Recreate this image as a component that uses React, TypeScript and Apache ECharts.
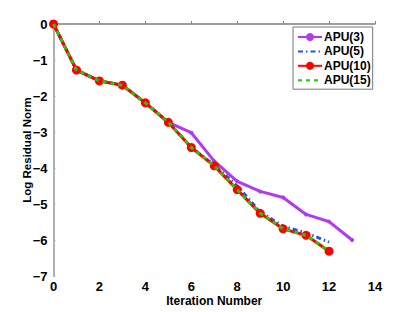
import React, { useEffect, useRef } from "react";
import * as echarts from "echarts";

const iterations = [0, 1, 2, 3, 4, 5, 6, 7, 8, 9, 10, 11, 12, 13];
const apu3 = [0, -1.28, -1.58, -1.7, -2.19, -2.73, -3.02, -3.81, -4.37, -4.65, -4.82, -5.29, -5.49, -6.0];
const apu5 = [0, -1.28, -1.58, -1.7, -2.19, -2.73, -3.43, -3.92, -4.5, -5.22, -5.62, -5.8, -6.06];
const apu10 = [0, -1.28, -1.58, -1.7, -2.19, -2.73, -3.43, -3.94, -4.6, -5.26, -5.69, -5.87, -6.31];
const apu15 = [0, -1.28, -1.58, -1.7, -2.19, -2.73, -3.43, -3.94, -4.6, -5.26, -5.69, -5.87, -6.31];
const seriesNames = ["APU(3)", "APU(5)", "APU(10)", "APU(15)"];

const pairs = (ys: number[]) => ys.map((y, i) => [iterations[i], y]);
const fmtMinus = (v: number) => (v < 0 ? "\u2212" + Math.abs(v) : String(v));

export default function App() {
  const ref = useRef<HTMLDivElement>(null);
  useEffect(() => {
    const chart = echarts.init(ref.current!, undefined, { renderer: "svg" });
    const font = "Liberation Sans, Arial, sans-serif";
    chart.setOption({
      animation: false,
      backgroundColor: "#fff",
      textStyle: { fontFamily: font },
      grid: { left: 53.5, right: 40, top: 24, bottom: 34.7, containLabel: false },
      legend: {
        left: 293,
        top: 27,
        orient: "vertical",
        backgroundColor: "#fff",
        borderColor: "#777",
        borderWidth: 1,
        borderRadius: 0,
        padding: [3, 2, 2, 4],
        itemGap: 0.4,
        itemWidth: 24,
        itemHeight: 10,
        textStyle: { fontFamily: font, fontWeight: "bold", fontSize: 12, lineHeight: 14, color: "#000", padding: [0, 0, 0, -3] },
        data: [
          { name: seriesNames[0] },
          { name: seriesNames[1], itemStyle: { opacity: 0 } },
          { name: seriesNames[2] },
          { name: seriesNames[3], itemStyle: { opacity: 0 } },
        ],
      },
      xAxis: {
        type: "value",
        min: 0,
        max: 14,
        interval: 2,
        name: "Iteration Number",
        nameLocation: "middle",
        nameGap: 19,
        nameMoveOverlap: false,
        nameTextStyle: { fontFamily: font, fontWeight: "bold", fontSize: 12, color: "#000" },
        axisLine: { lineStyle: { color: "#808080", width: 1.5 } },
        axisTick: { inside: true, length: 3, lineStyle: { color: "#808080" } },
        axisLabel: { fontFamily: font, fontWeight: "bold", fontSize: 13, color: "#000", margin: 4 },
        splitLine: { show: false },
      },
      yAxis: {
        type: "value",
        min: -7,
        max: 0,
        interval: 1,
        name: "Log Residual Norm",
        nameLocation: "middle",
        nameGap: 21,
        nameMoveOverlap: false,
        nameTextStyle: { fontFamily: font, fontWeight: "bold", fontSize: 11.5, color: "#000" },
        axisLine: { lineStyle: { color: "#b0b0b0", width: 2 } },
        axisTick: { inside: true, length: 2, lineStyle: { color: "#b0b0b0" } },
        axisLabel: { fontFamily: font, fontWeight: "bold", fontSize: 13, color: "#000", margin: 6, formatter: fmtMinus },
        splitLine: { show: false },
      },
      series: [
        {
          name: "APU(3)",
          type: "line",
          data: pairs(apu3),
          color: "#b23aee",
          lineStyle: { width: 3, color: "#b23aee" },
          symbol: "circle",
          symbolSize: 4,
          itemStyle: { color: "#b23aee" },
          z: 2,
        },
        {
          name: "APU(5)",
          type: "line",
          data: pairs(apu5),
          color: "#2a4ff0",
          lineStyle: { width: 3, color: "#2a4ff0", type: [5, 3, 1.5, 3] },
          symbol: "none",
          z: 3,
        },
        {
          name: "APU(10)",
          type: "line",
          data: pairs(apu10),
          color: "#ff0000",
          lineStyle: { width: 3, color: "#ff0000" },
          symbol: "circle",
          symbolSize: 9,
          itemStyle: { color: "#ff0000" },
          z: 4,
        },
        {
          name: "APU(15)",
          type: "line",
          data: pairs(apu15),
          color: "#22cc00",
          lineStyle: { width: 3, color: "#22cc00", type: [4, 4] },
          symbol: "none",
          z: 5,
        },
      ],
    });
    return () => chart.dispose();
  }, []);
  return <div ref={ref} style={{ width: 415, height: 312, position: "absolute", left: 0, top: 0 }} />;
}
